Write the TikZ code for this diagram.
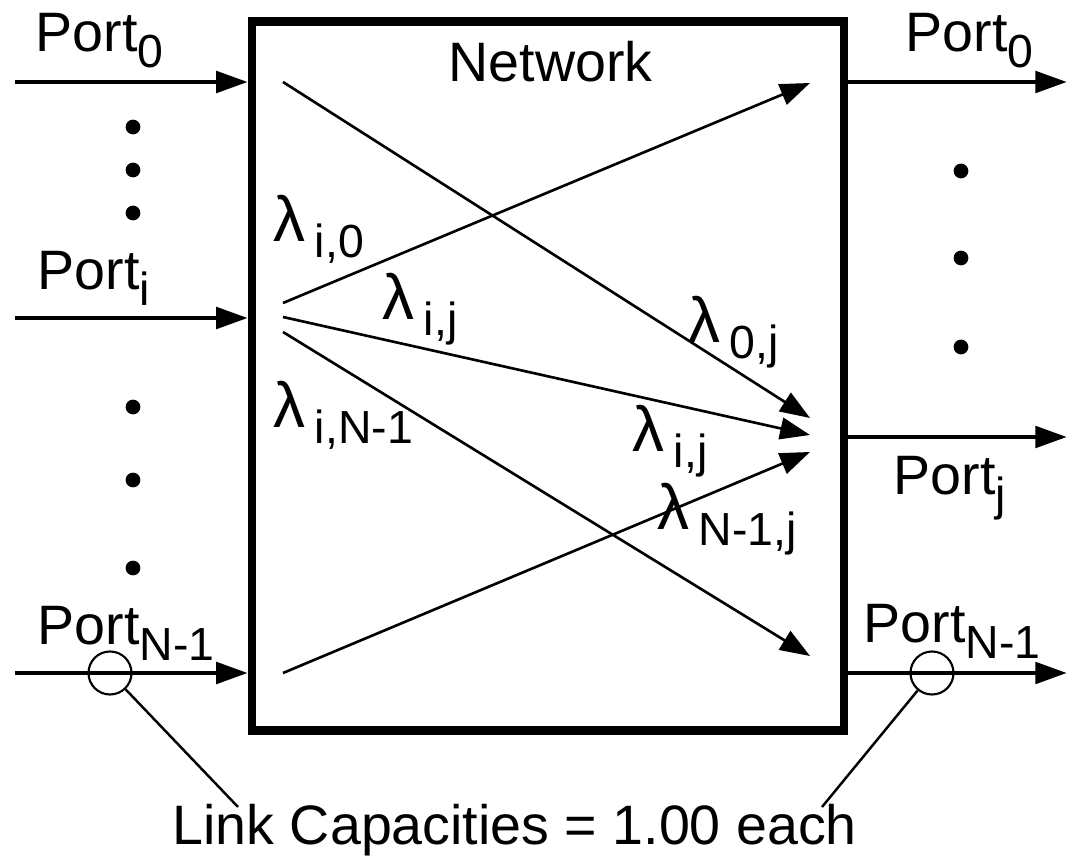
\documentclass[tikz,border=0pt]{standalone}
\usepackage{fontspec}
\setmainfont{Liberation Sans}
\usetikzlibrary{arrows.meta}
\newcommand{\lo}[1]{\raisebox{-4.5pt}{\fontsize{13.2pt}{14pt}\selectfont #1}}
\newcommand{\lam}{\scalebox{1.15}{λ}}

\begin{document}
\begin{tikzpicture}[
			x=0.01cm, y=-0.01cm,
			netbox/.style = {draw, line width=2.4pt, minimum width=5.915cm, minimum height=7.09cm, inner sep=0pt},
			port/.style = {line width=1.4pt, -{Triangle[length=9pt, width=6pt]}},
			flow/.style = {line width=0.75pt, -{Triangle[length=8.5pt, width=6.2pt]}},
			lbl/.style = {anchor=base west, inner sep=0pt, font=\fontsize{15.8pt}{18pt}\selectfont},
			dot/.style = {circle, fill, inner sep=0pt, minimum size=4.2pt},
			ring/.style = {draw, circle, line width=0.6pt, minimum size=0.43cm, inner sep=0pt}
		]
		\useasboundingbox (0,0) rectangle (1069,858);
		\node[netbox] (net) at (548,376) {};
		\node[lbl] (title) at (448,82) {Network};
		\coordinate (in0) at (15,82);
		\coordinate (ini) at (15,318);
		\coordinate (inN) at (15,673);
		\coordinate (out0) at (1067,82);
		\coordinate (outj) at (1067,437);
		\coordinate (outN) at (1067,673);
		\draw[port] (in0) -- (net.west |- in0);
		\draw[port] (ini) -- (net.west |- ini);
		\draw[port] (inN) -- (net.west |- inN);
		\draw[port] (net.east |- out0) -- (out0);
		\draw[port] (net.east |- outj) -- (outj);
		\draw[port] (net.east |- outN) -- (outN);
		\node[lbl] (lp0) at (35,52) {Port\lo{0}};
		\node[lbl] (lpi) at (37,290) {Port\lo{i}};
		\node[lbl] (lpN) at (37,645) {Port\lo{N-1}};
		\node[lbl] (rp0) at (905,52) {Port\lo{0}};
		\node[lbl] (rpj) at (893,495) {Port\lo{j}};
		\node[lbl] (rpN) at (863,643) {Port\lo{N-1}};
		\node[dot] (d1) at (133,127) {};
		\node[dot] (d2) at (133,170) {};
		\node[dot] (d3) at (133,213) {};
		\node[dot] (d4) at (133,407) {};
		\node[dot] (d5) at (133,480) {};
		\node[dot] (d6) at (133,568) {};
		\node[dot] (d7) at (961,171) {};
		\node[dot] (d8) at (961,258) {};
		\node[dot] (d9) at (961,347) {};
		\coordinate (s0) at (283,82);
		\coordinate (si0) at (283,303);
		\coordinate (sij) at (283,317);
		\coordinate (siN) at (283,332);
		\coordinate (sN) at (283,673);
		\coordinate (t0) at (810,83);
		\coordinate (t0j) at (810,418);
		\coordinate (tij) at (810,435);
		\coordinate (tNj) at (810,452);
		\coordinate (tN) at (810,656);
		\draw[flow] (s0) -- (t0j);
		\draw[flow] (si0) -- (t0);
		\draw[flow] (sij) -- (tij);
		\draw[flow] (siN) -- (tN);
		\draw[flow] (sN) -- (tNj);
		\node[lbl] (li0) at (273,242) {\lam\,\lo{i,0}};
		\node[lbl] (lij) at (382,320) {\lam\,\lo{i,j}};
		\node[lbl] (liN) at (273,428) {\lam\,\lo{i,N-1}};
		\node[lbl] (l0j) at (688,343) {\lam\,\lo{0,j}};
		\node[lbl] (lij2) at (632,452) {\lam\,\lo{i,j}};
		\node[lbl] (lNj) at (657,530) {\lam\,\lo{N-1,j}};
		\node[ring] (cl) at (110,673) {};
		\node[ring] (cr) at (932,673) {};
		\node[lbl] (note) at (172,845) {Link Capacities = 1.00 each};
		\coordinate (nl) at (238,807);
		\coordinate (nr) at (822,807);
		\draw[line width=0.7pt] (cl) -- (nl);
		\draw[line width=0.7pt] (cr) -- (nr);
	\end{tikzpicture}
\end{document}
